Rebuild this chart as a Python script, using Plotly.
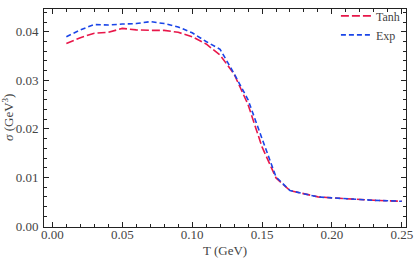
import plotly.graph_objects as go

T = [0.01, 0.02, 0.03, 0.04, 0.05, 0.06, 0.07, 0.08, 0.09, 0.10, 0.11, 0.12, 0.13,
     0.14, 0.15, 0.16, 0.17, 0.18, 0.19, 0.20, 0.21, 0.22, 0.23, 0.24, 0.25]
sigma_tanh = [0.0376, 0.0388, 0.0397, 0.0399, 0.0407, 0.0404, 0.0403, 0.0403, 0.0399,
              0.0390, 0.0375, 0.0352, 0.0313, 0.0250, 0.0163, 0.0099, 0.0073, 0.0066,
              0.0060, 0.0058, 0.0056, 0.0055, 0.0053, 0.0052, 0.0051]
sigma_exp = [0.0390, 0.0404, 0.0415, 0.0414, 0.0416, 0.0417, 0.0421, 0.0417, 0.0410,
             0.0398, 0.0380, 0.0364, 0.0314, 0.0260, 0.0180, 0.0101, 0.0073, 0.0066,
             0.0060, 0.0058, 0.0056, 0.0055, 0.0053, 0.0052, 0.0051]
x_ticks = [0.00, 0.05, 0.10, 0.15, 0.20, 0.25]
x_labels = ["0.00", "0.05", "0.10", "0.15", "0.20", "0.25"]
y_ticks = [0.00, 0.01, 0.02, 0.03, 0.04]
y_labels = ["0.00", "0.01", "0.02", "0.03", "0.04"]

FONT = "Liberation Serif"
RED = "#E8174A"
BLUE = "#1A45E8"
TXT = "#444"

fig = go.Figure()
fig.add_trace(go.Scatter(x=T, y=sigma_tanh, mode="lines", name="Tanh",
                         line=dict(color=RED, width=1.6, dash="8px,3px")))
fig.add_trace(go.Scatter(x=T, y=sigma_exp, mode="lines", name="Exp",
                         line=dict(color=BLUE, width=1.6, dash="5px,3px")))

axis_common = dict(showgrid=False, zeroline=False, showline=True, linecolor="#222",
                   linewidth=1, mirror="allticks", ticks="inside", ticklen=5,
                   tickcolor="#222", automargin=False,
                   tickfont=dict(family=FONT, size=13, color=TXT))

fig.update_xaxes(range=[-0.006, 0.253], tickvals=x_ticks, ticktext=x_labels,
                 minor=dict(ticks="inside", ticklen=3, dtick=0.01, tick0=0, tickcolor="#222"),
                 ticklabelstandoff=-5,
                 **axis_common)
fig.update_yaxes(range=[-0.0002, 0.0447], tickvals=y_ticks, ticktext=y_labels,
                 minor=dict(ticks="inside", ticklen=3, dtick=0.002, tick0=0, tickcolor="#222"),
                 ticklabelstandoff=2,
                 **axis_common)

fig.add_annotation(text="T (GeV)", xref="paper", yref="paper", x=0.5, y=0,
                   yshift=-14, xanchor="center", yanchor="top", showarrow=False,
                   font=dict(family=FONT, size=13, color=TXT))
fig.add_annotation(text="<i>σ</i> (GeV<sup>3</sup>)", xref="paper", yref="paper",
                   x=0, y=0.5, xshift=-36, xanchor="center", yanchor="middle",
                   textangle=-90, showarrow=False,
                   font=dict(family=FONT, size=13, color=TXT))

fig.update_layout(width=415, height=258, margin=dict(l=44, r=9, t=1, b=31),
                  plot_bgcolor="white", paper_bgcolor="white",
                  legend=dict(x=0.997, y=1.035, xanchor="right", yanchor="top",
                              bgcolor="rgba(0,0,0,0)", font=dict(family=FONT, size=12, color=TXT),
                              tracegroupgap=0, itemwidth=30),
                  showlegend=True)

fig.write_html("out.html", config={"displayModeBar": False},
               post_script="document.body.style.margin='0';document.body.style.padding='0';")
